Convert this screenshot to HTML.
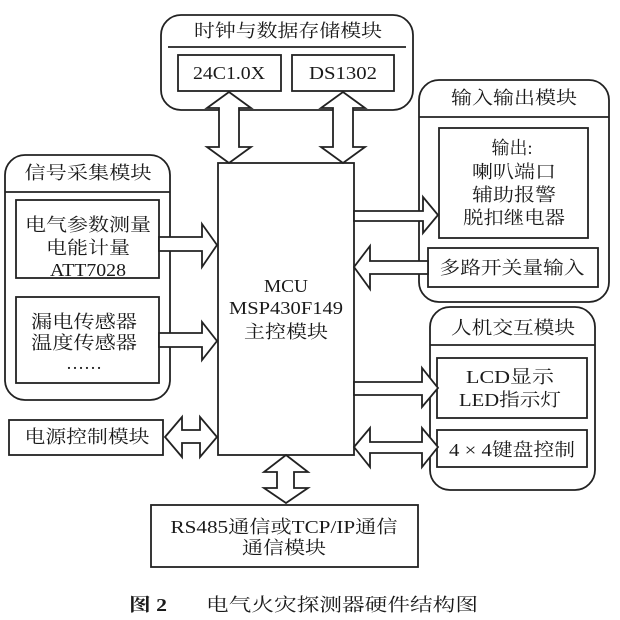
<!DOCTYPE html>
<html><head><meta charset="utf-8"><style>
html,body{margin:0;padding:0;background:#fff;}
svg{display:block;}
text{font-family:"Liberation Serif","Noto Serif CJK SC","Noto Sans CJK SC",serif;fill:#1a1a1a;font-size:18px;dominant-baseline:central;text-anchor:middle;}
</style></head><body>
<svg width="620" height="620" viewBox="0 0 620 620" xmlns="http://www.w3.org/2000/svg">
<rect width="620" height="620" fill="#fff"/>
<g fill="none" stroke="#222" stroke-width="1.8">
<!-- top module -->
<rect x="161" y="15" width="252" height="95" rx="20"/>
<line x1="168" y1="47" x2="406" y2="47"/>
<rect x="178" y="55" width="103" height="36"/>
<rect x="292" y="55" width="102" height="36"/>
<!-- IO module -->
<rect x="419" y="80" width="190" height="222" rx="20"/>
<line x1="419" y1="117" x2="609" y2="117"/>
<rect x="439" y="128" width="149" height="110"/>
<rect x="428" y="248" width="170" height="39"/>
<!-- Signal module -->
<rect x="5" y="155" width="165" height="245" rx="20"/>
<line x1="5" y1="192" x2="170" y2="192"/>
<rect x="16" y="200" width="143" height="78"/>
<rect x="16" y="297" width="143" height="86"/>
<!-- MCU -->
<rect x="218" y="163" width="136" height="292"/>
<!-- HMI -->
<rect x="430" y="307" width="165" height="183" rx="20"/>
<line x1="430" y1="345" x2="595" y2="345"/>
<rect x="437" y="358" width="150" height="60"/>
<rect x="437" y="430" width="150" height="37"/>
<!-- power -->
<rect x="9" y="420" width="154" height="35"/>
<!-- RS485 -->
<rect x="151" y="505" width="267" height="62"/>
</g>
<g fill="#fff" stroke="#222" stroke-width="1.8" stroke-linejoin="miter">
<!-- vertical double arrows top -->
<polygon points="229,92 251,108 239,108 239,147 251,147 229,163 207,147 219,147 219,108 207,108"/>
<polygon points="343,92 365,108 353,108 353,147 365,147 343,163 321,147 333,147 333,108 321,108"/>
<!-- signal -> MCU -->
<polygon points="159,237 202,237 202,224 217,245 202,267 202,251 159,251"/>
<polygon points="159,333 202,333 202,322 217,341 202,360 202,347 159,347"/>
<!-- MCU -> output -->
<polygon points="354,211 423,211 423,197 438,215 423,233 423,221 354,221"/>
<!-- 多路 -> MCU -->
<polygon points="428,261 370,261 370,246 354,267 370,289 370,274 428,274"/>
<!-- MCU -> LCD -->
<polygon points="354,382 422,382 422,368 438,388 422,407 422,395 354,395"/>
<!-- MCU <-> keyboard -->
<polygon points="354,447 370,428 370,442 422,442 422,428 438,447 422,467 422,453 370,453 370,467"/>
<!-- power <-> MCU -->
<polygon points="165,437 182,417 182,430 200,430 200,417 217,437 200,457 200,443 182,443 182,457"/>
<!-- MCU <-> RS485 -->
<polygon points="286,455 308,472 294,472 294,488 308,488 286,503 264,488 277,488 277,472 264,472"/>
</g>
<g>
<text x="288" y="31" textLength="188" lengthAdjust="spacingAndGlyphs">时钟与数据存储模块</text>
<text x="229" y="73" textLength="72" lengthAdjust="spacingAndGlyphs">24C1.0X</text>
<text x="343" y="73" textLength="68" lengthAdjust="spacingAndGlyphs">DS1302</text>
<text x="514" y="98" textLength="126" lengthAdjust="spacingAndGlyphs">输入输出模块</text>
<text x="512" y="148">输出:</text>
<text x="514" y="172" textLength="84" lengthAdjust="spacingAndGlyphs">喇叭端口</text>
<text x="514" y="195" textLength="84" lengthAdjust="spacingAndGlyphs">辅助报警</text>
<text x="514" y="218" textLength="102" lengthAdjust="spacingAndGlyphs">脱扣继电器</text>
<text x="512" y="268" textLength="145" lengthAdjust="spacingAndGlyphs">多路开关量输入</text>
<text x="88" y="173" textLength="127" lengthAdjust="spacingAndGlyphs">信号采集模块</text>
<text x="88" y="225" textLength="126" lengthAdjust="spacingAndGlyphs">电气参数测量</text>
<text x="88" y="248" textLength="84" lengthAdjust="spacingAndGlyphs">电能计量</text>
<text x="88" y="270" textLength="76" lengthAdjust="spacingAndGlyphs">ATT7028</text>
<text x="84" y="322" textLength="106" lengthAdjust="spacingAndGlyphs">漏电传感器</text>
<text x="84" y="343" textLength="106" lengthAdjust="spacingAndGlyphs">温度传感器</text>
<text x="84" y="363">……</text>
<text x="286" y="286" textLength="44" lengthAdjust="spacingAndGlyphs">MCU</text>
<text x="286" y="308" textLength="114" lengthAdjust="spacingAndGlyphs">MSP430F149</text>
<text x="286" y="332" textLength="84" lengthAdjust="spacingAndGlyphs">主控模块</text>
<text x="513" y="328" textLength="124" lengthAdjust="spacingAndGlyphs">人机交互模块</text>
<text x="510" y="377" textLength="88" lengthAdjust="spacingAndGlyphs">LCD显示</text>
<text x="510" y="400" textLength="102" lengthAdjust="spacingAndGlyphs">LED指示灯</text>
<text x="512" y="450" textLength="126" lengthAdjust="spacingAndGlyphs">4 × 4键盘控制</text>
<text x="87" y="437" textLength="125" lengthAdjust="spacingAndGlyphs">电源控制模块</text>
<text x="284" y="527" textLength="227" lengthAdjust="spacingAndGlyphs">RS485通信或TCP/IP通信</text>
<text x="284" y="548" textLength="84" lengthAdjust="spacingAndGlyphs">通信模块</text>
<text x="148" y="605" font-weight="bold" font-family="'Noto Sans CJK SC',sans-serif" font-size="16" textLength="38" lengthAdjust="spacingAndGlyphs">图 2</text>
<text x="342" y="605" font-size="17" textLength="272" lengthAdjust="spacingAndGlyphs">电气火灾探测器硬件结构图</text>
</g>
</svg>
</body></html>
